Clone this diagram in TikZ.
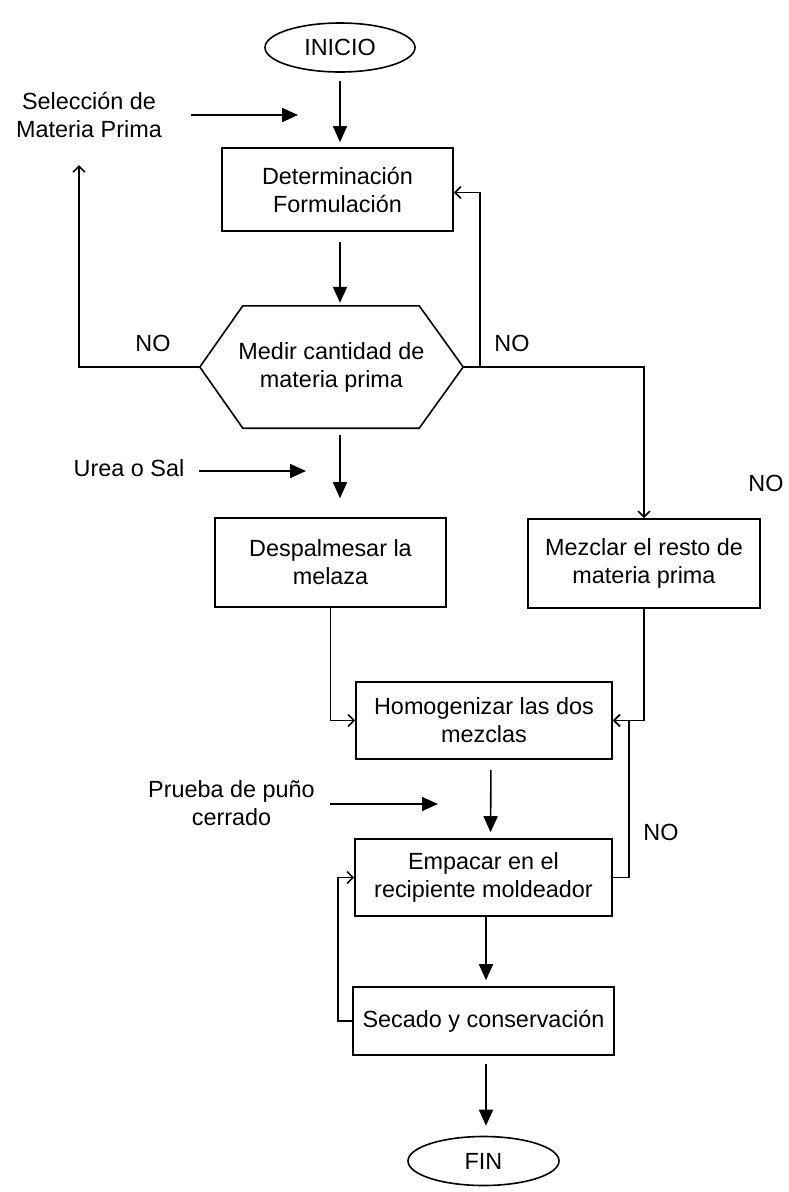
\documentclass[tikz,border=0pt]{standalone}
\usepackage{fontspec}
\setmainfont{Liberation Sans}
\usetikzlibrary{shapes.geometric,arrows.meta}

\begin{document}
\begin{tikzpicture}[x=1pt,y=-1pt,
	font=\fontsize{23.4}{28}\selectfont,
	proc/.style={draw,line width=1.6pt,align=center,inner sep=2pt},
	term/.style={draw,ellipse,line width=1.6pt,inner sep=0pt},
	lbl/.style={align=center,inner sep=0pt},
	flow/.style={line width=1.6pt,-{Triangle[length=16pt,width=14pt]}},
	back/.style={line width=1.6pt,-{Straight Barb[length=6pt,width=12pt]}}]
	\useasboundingbox (0,0) rectangle (788,1192);
	% Start and end
	\node[term,minimum width=150pt,minimum height=49pt] (inicio) at (340,47.5) {INICIO};
	\node[term,minimum width=151pt,minimum height=49pt] (fin) at (483.5,1161) {FIN};
	% Process boxes
	\node[proc,minimum width=231pt,minimum height=83pt] (det) at (337.5,189.5) {Determinación\\Formulación};
	\node[lbl,minimum width=263pt,minimum height=122pt] (hex) at (331.5,367) {Medir cantidad de\\materia prima};
	\draw[line width=1.6pt] (hex.west) -- ([xshift=43pt]hex.north west) -- ([xshift=-44pt]hex.north east)
		-- (hex.east) -- ([xshift=-44pt]hex.south east) -- ([xshift=43pt]hex.south west) -- cycle;
	\node[proc,minimum width=231pt,minimum height=89pt] (desp) at (330.5,562.5) {Despalmesar la\\melaza};
	\node[proc,minimum width=232pt,minimum height=89pt] (mez) at (644,563.5) {Mezclar el resto de\\materia prima};
	\node[proc,minimum width=256pt,minimum height=77pt] (homo) at (484,720.5) {Homogenizar las dos\\mezclas};
	\node[proc,minimum width=257pt,minimum height=77pt] (emp) at (483.5,877.5) {Empacar en el\\recipiente moldeador};
	\node[proc,minimum width=261pt,minimum height=68pt] (sec) at (483.5,1021) {Secado y conservación};
	% Inputs
	\node[lbl] (sel) at (89,115) {Selección de\\Materia Prima};
	\node[lbl] (urea) at (129,468) {Urea o Sal};
	\node[lbl] (prueba) at (231.5,803.5) {Prueba de puño\\cerrado};
	\coordinate (selin) at (298,115);
	\coordinate (ureain) at (306,471);
	\coordinate (pruebain) at (438,804);
	% Labels
	\node[lbl] (no1) at (153,343) {NO};
	\node[lbl] (no2) at (512,343) {NO};
	\node[lbl] (no3) at (766,483) {NO};
	\node[lbl] (no4) at (661,832) {NO};
	% Main flow
	\draw[flow,shorten <=8pt,shorten >=5pt] (inicio.south) -- (inicio.south |- det.north);
	\draw[flow,shorten <=10pt,shorten >=3pt] (inicio |- det.south) -- (inicio |- hex.north);
	\draw[flow,shorten <=7pt,shorten >=19pt] (inicio |- hex.south) -- (inicio |- desp.north);
	\draw[flow,shorten <=10pt,shorten >=6pt] ([xshift=7pt]homo.south) -- ([xshift=7pt]emp.north);
	\draw[flow,shorten >=6pt] ([xshift=2.5pt]emp.south) -- ([xshift=2.5pt]sec.north);
	\draw[flow,shorten <=8pt,shorten >=10pt] ([xshift=2.5pt]sec.south) -- ([xshift=2.5pt]fin.north);
	\draw[flow,shorten <=29pt] (sel.east |- selin) -- (selin);
	\draw[flow,shorten <=15pt] (urea.east |- ureain) -- (ureain);
	\draw[flow,shorten <=15pt] (prueba.east |- pruebain) -- (pruebain);
	% Loops
	\coordinate (selup) at (79,165);
	\coordinate (rjoin) at (480,367);
	\draw[back] (hex.west) -| (selup);
	\draw[back] (hex.east) -- (rjoin) |- ([yshift=-3pt]det.east);
	\draw[back] (rjoin) -| (mez.north);
	\draw[back] (desp.south) |- (homo.west);
	\draw[back] (mez.south) |- (homo.east);
	\draw[back] (emp.east) -- ++(16,0) |- (homo.east);
	\draw[back] (sec.west) -- ++(-14,0) |- (emp.west);
\end{tikzpicture}
\end{document}
